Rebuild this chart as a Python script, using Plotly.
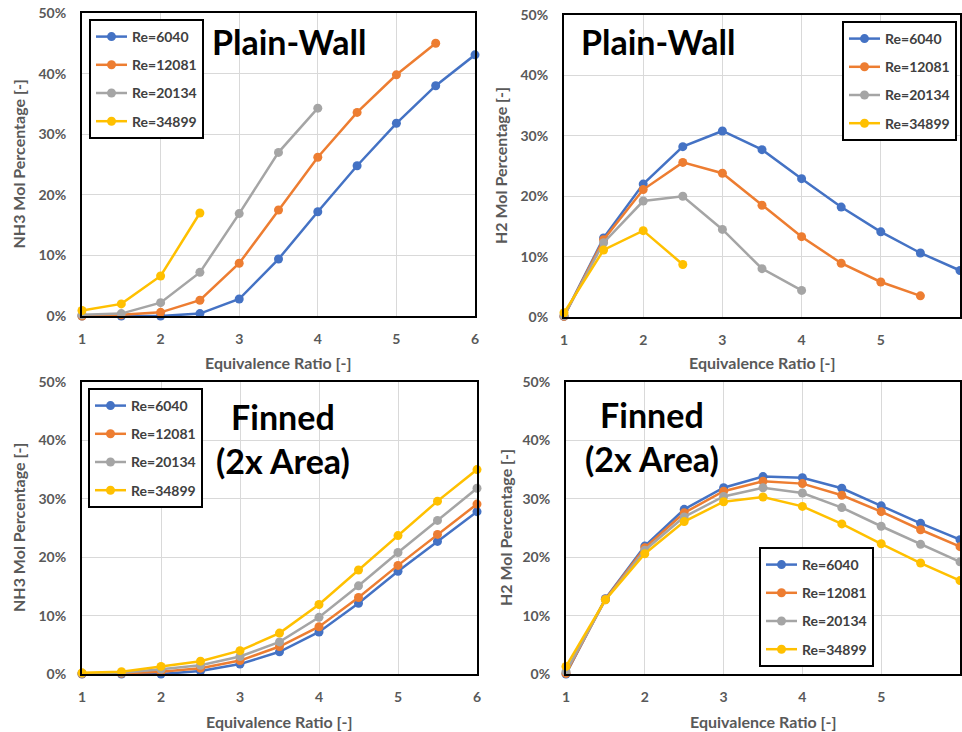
import plotly.graph_objects as go

phi = [1, 1.5, 2, 2.5, 3, 3.5, 4, 4.5, 5, 5.5, 6]
re_labels = ["Re=6040", "Re=12081", "Re=20134", "Re=34899"]
colors = ["#4472C4", "#ED7D31", "#A5A5A5", "#FFC000"]

# Plain-wall NH3 (%)
nh3_plain_6040 = [0.0, 0.0, 0.0, 0.4, 2.8, 9.4, 17.2, 24.8, 31.8, 38.0, 43.1]
nh3_plain_12081 = [0.0, 0.2, 0.6, 2.6, 8.7, 17.5, 26.2, 33.6, 39.8, 45.0]
nh3_plain_20134 = [0.2, 0.4, 2.2, 7.2, 16.9, 27.0, 34.3]
nh3_plain_34899 = [0.9, 2.0, 6.6, 17.0]

# Plain-wall H2 (%)
h2_plain_6040 = [0.1, 13.1, 22.0, 28.2, 30.8, 27.7, 22.9, 18.2, 14.1, 10.6, 7.7]
h2_plain_12081 = [0.1, 12.8, 21.1, 25.6, 23.8, 18.5, 13.3, 8.9, 5.8, 3.5]
h2_plain_20134 = [0.2, 12.3, 19.2, 20.0, 14.5, 8.0, 4.4]
h2_plain_34899 = [0.7, 11.1, 14.3, 8.7]

# Finned NH3 (%)
nh3_fin_6040 = [0.0, 0.0, 0.0, 0.5, 1.7, 3.8, 7.2, 12.1, 17.6, 22.7, 27.8]
nh3_fin_12081 = [0.05, 0.1, 0.4, 1.0, 2.3, 4.7, 8.1, 13.1, 18.6, 23.9, 29.1]
nh3_fin_20134 = [0.1, 0.2, 0.8, 1.5, 3.0, 5.5, 9.7, 15.1, 20.8, 26.3, 31.8]
nh3_fin_34899 = [0.2, 0.4, 1.3, 2.2, 4.0, 7.0, 11.9, 17.8, 23.7, 29.6, 35.0]

# Finned H2 (%)
h2_fin_6040 = [0.0, 12.9, 21.9, 28.2, 31.9, 33.8, 33.6, 31.8, 28.8, 25.8, 23.0]
h2_fin_12081 = [0.1, 12.8, 21.6, 27.6, 31.3, 33.0, 32.6, 30.6, 27.8, 24.7, 21.8]
h2_fin_20134 = [0.4, 12.7, 21.2, 26.9, 30.4, 31.9, 31.0, 28.5, 25.3, 22.2, 19.2]
h2_fin_34899 = [1.3, 12.7, 20.6, 26.1, 29.5, 30.3, 28.7, 25.7, 22.3, 19.0, 16.0]

panels = [
    [nh3_plain_6040, nh3_plain_12081, nh3_plain_20134, nh3_plain_34899],
    [h2_plain_6040, h2_plain_12081, h2_plain_20134, h2_plain_34899],
    [nh3_fin_6040, nh3_fin_12081, nh3_fin_20134, nh3_fin_34899],
    [h2_fin_6040, h2_fin_12081, h2_fin_20134, h2_fin_34899],
]

W, H = 962, 732
FONT = "Lato"
TXT = "#595959"

def px_x(p):
    return p / W

def px_y(p):
    return 1 - p / H

# plot-area boxes in window pixels: (left, right, top, bottom)
boxes = [(82, 475, 13, 316), (564, 960, 15, 317), (82, 477, 382, 674), (566, 960, 382, 674)]
legend_pos = [(89, 19), (842, 21), (88, 388), (759, 547)]
ytitles = ["NH3 Mol Percentage [-]", "H2 Mol Percentage [-]", "NH3 Mol Percentage [-]", "H2 Mol Percentage [-]"]
ytitle_x = [18, 500, 18, 505]
xtitle_y = [362, 362, 721, 721]

fig = go.Figure()
layout = dict(width=W, height=H, margin=dict(l=0, r=0, t=0, b=0, autoexpand=False),
              paper_bgcolor="white", plot_bgcolor="white",
              font=dict(family=FONT, color=TXT), annotations=[])

for i, series in enumerate(panels):
    n = i + 1
    xa = "x" if n == 1 else f"x{n}"
    ya = "y" if n == 1 else f"y{n}"
    lg = "legend" if n == 1 else f"legend{n}"
    for j, vals in enumerate(series):
        fig.add_trace(go.Scatter(
            x=phi[:len(vals)], y=vals, mode="lines+markers", name=re_labels[j],
            xaxis=xa, yaxis=ya, legend=lg, legendgroup=f"p{n}s{j}",
            line=dict(color=colors[j], width=2.5),
            marker=dict(color=colors[j], size=9),
            cliponaxis=False,
        ))
    l, r, t, b = boxes[i]
    axkey = "xaxis" if n == 1 else f"xaxis{n}"
    aykey = "yaxis" if n == 1 else f"yaxis{n}"
    layout[axkey] = dict(domain=[px_x(l), px_x(r)], anchor=ya, range=[1, 6], dtick=1,
                         automargin=False,
                         showgrid=True, gridcolor="#D9D9D9", gridwidth=1,
                         showline=True, mirror=True, linecolor="black", linewidth=2,
                         zeroline=False, ticks="", ticklabelstandoff=9,
                         tickfont=dict(family=FONT, size=14, color=TXT, weight="bold"))
    layout[aykey] = dict(domain=[px_y(b), px_y(t)], anchor=xa, range=[0, 50], dtick=10,
                         ticksuffix="%", automargin=False,
                         showgrid=True, gridcolor="#D9D9D9", gridwidth=1,
                         showline=True, mirror=True, linecolor="black", linewidth=2,
                         zeroline=False, ticks="", ticklabelstandoff=11,
                         tickfont=dict(family=FONT, size=14, color=TXT, weight="bold"))
    lx, ly = legend_pos[i]
    layout[lg] = dict(x=px_x(lx), y=px_y(ly), xanchor="left", yanchor="top",
                      bgcolor="white", bordercolor="black", borderwidth=2,
                      traceorder="grouped", tracegroupgap=7, itemwidth=31,
                      font=dict(family=FONT, size=14, color="#404040", weight="bold"))
    layout["annotations"].append(dict(
        x=px_x(ytitle_x[i]), y=px_y((t + b) / 2), xref="paper", yref="paper",
        xanchor="center", yanchor="middle",
        text=ytitles[i], textangle=-90, showarrow=False,
        font=dict(family=FONT, size=16, color=TXT, weight="bold")))
    layout["annotations"].append(dict(
        x=px_x((l + r) / 2), y=px_y(xtitle_y[i]), xref="paper", yref="paper",
        xanchor="center", yanchor="middle",
        text="Equivalence Ratio [-]", showarrow=False,
        font=dict(family=FONT, size=16, color=TXT, weight="bold")))

titles = [("Plain-Wall", 289, 42), ("Plain-Wall", 658, 42),
          ("Finned<br>(2x Area)", 283, 438), ("Finned<br>(2x Area)", 652, 436)]
for text, cx, cy in titles:
    layout["annotations"].append(dict(
        x=px_x(cx), y=px_y(cy), xref="paper", yref="paper", text=text,
        xanchor="center", yanchor="middle",
        showarrow=False, align="center",
        font=dict(family=FONT, size=34, color="black", weight="bold")))

fig.update_layout(**layout)
fig.write_html("out.html", config={"displayModeBar": False},
               post_script="document.body.style.margin='0px';document.body.style.overflow='hidden';")
